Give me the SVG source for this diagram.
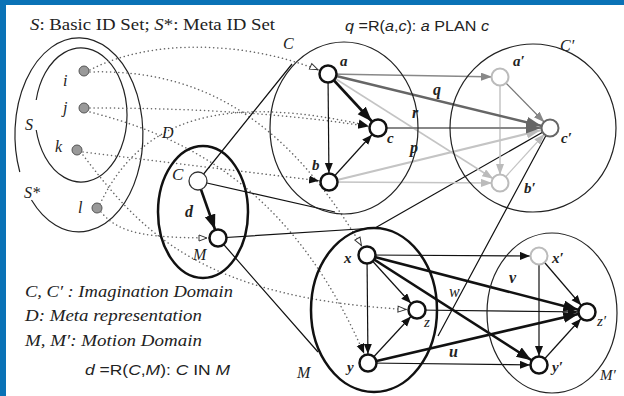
<svg xmlns="http://www.w3.org/2000/svg" width="624" height="396" viewBox="0 0 624 396">
<style>
.t{font-family:"Liberation Serif",serif;fill:#222}
.i{font-style:italic}
.b{font-weight:bold}
.sans{font-family:"Liberation Sans",Arial,sans-serif;fill:#222}
.dom{fill:none;stroke:#222;stroke-width:1.2}
.domb{fill:none;stroke:#111;stroke-width:2.5}
.dot{fill:none;stroke:#666;stroke-width:1.5;stroke-dasharray:0.1 4;stroke-linecap:round}
.n{fill:#fff;stroke:#111;stroke-width:2.5}
.ng{fill:#fff;stroke:#bbb;stroke-width:2}
.nd{fill:#fff;stroke:#666;stroke-width:2}
.ln{fill:none;stroke:#111;stroke-width:1.2}
.lb{fill:none;stroke:#111;stroke-width:2.6}
</style>
<defs>
<marker id="k" markerUnits="userSpaceOnUse" markerWidth="30" markerHeight="20" refX="19" refY="4" orient="auto"><path d="M0,0L10,4L0,8z" fill="#111"/></marker>
<marker id="K" markerUnits="userSpaceOnUse" markerWidth="40" markerHeight="20" refX="24" refY="5.5" orient="auto"><path d="M0,0L15,5.5L0,11z" fill="#111"/></marker>
<marker id="g" markerUnits="userSpaceOnUse" markerWidth="30" markerHeight="20" refX="19" refY="4" orient="auto"><path d="M0,0L11,4L0,8z" fill="#888"/></marker>
<marker id="G" markerUnits="userSpaceOnUse" markerWidth="40" markerHeight="20" refX="24" refY="5.5" orient="auto"><path d="M0,0L15,5.5L0,11z" fill="#666"/></marker>
<marker id="l" markerUnits="userSpaceOnUse" markerWidth="30" markerHeight="20" refX="19" refY="4" orient="auto"><path d="M0,0L11,4L0,8z" fill="#bbb"/></marker>
<marker id="L" markerUnits="userSpaceOnUse" markerWidth="40" markerHeight="20" refX="24" refY="5" orient="auto"><path d="M0,0L14,5L0,10z" fill="#bbb"/></marker>
<marker id="o" markerUnits="userSpaceOnUse" markerWidth="30" markerHeight="20" refX="20" refY="4" orient="auto"><path d="M1,1L9,4L1,7z" fill="#fff" stroke="#333" stroke-width="1"/></marker>
<marker id="f" markerUnits="userSpaceOnUse" markerWidth="30" markerHeight="20" refX="20" refY="4" orient="auto"><path d="M0,0L10,4L0,8z" fill="#111"/></marker>
</defs>
<rect x="0" y="0" width="624" height="396" fill="#fff"/>
<rect x="0" y="0" width="6" height="396" fill="#0a72b6"/>
<rect x="0" y="0" width="624" height="5" fill="#0a72b6"/>

<g id="texts">
<text class="t" x="30" y="30" font-size="17" textLength="245" lengthAdjust="spacingAndGlyphs"><tspan class="i">S</tspan>: Basic ID Set; <tspan class="i">S</tspan>*: Meta ID Set</text>
<text class="sans" x="345" y="31" font-size="14" textLength="144" lengthAdjust="spacingAndGlyphs"><tspan class="i">q</tspan> =R(<tspan class="i">a</tspan>,<tspan class="i">c</tspan>): <tspan class="i">a</tspan> PLAN <tspan class="i">c</tspan></text>
<text class="t i" x="25" y="297" font-size="16.5" textLength="208" lengthAdjust="spacingAndGlyphs">C, C′ : Imagination Domain</text>
<text class="t i" x="25" y="321" font-size="16.5" textLength="177" lengthAdjust="spacingAndGlyphs">D: Meta representation</text>
<text class="t i" x="25" y="346" font-size="16.5" textLength="177" lengthAdjust="spacingAndGlyphs">M, M′: Motion Domain</text>
<text class="sans" x="85" y="375" font-size="14" textLength="145" lengthAdjust="spacingAndGlyphs"><tspan class="i">d</tspan> =R(<tspan class="i">C</tspan>,<tspan class="i">M</tspan>): <tspan class="i">C</tspan> IN <tspan class="i">M</tspan></text>
</g>

<g id="S">
<path class="dom" d="M36.2,100 A46,67 0 1 1 36.2,130"/>
<path class="dom" d="M19.8,172 A64,97 0 1 1 31.5,200"/>
<text class="t i" x="25" y="130" font-size="16">S</text>
<text class="t i" x="24" y="198" font-size="16">S*</text>
</g>

<g id="connectors">
<!-- dotted ID mappings -->
<path class="dot" d="M90,70 C150,38 250,40 328,74" marker-end="url(#o)"/>
<path class="dot" d="M90,72 C220,68 300,140 367,255" marker-end="url(#o)"/>
<path class="dot" d="M90,108 C180,108 280,112 378,128" marker-end="url(#f)"/>
<path class="dot" d="M90,112 C200,140 300,200 368,363" marker-end="url(#f)"/>
<path class="dot" d="M83,152 L329,182" marker-end="url(#f)"/>
<path class="dot" d="M83,155 C140,230 200,300 417,310" marker-end="url(#o)"/>
<path class="dot" d="M100,204 C140,120 220,90 378,128" marker-end="url(#f)"/>
<path class="dot" d="M101,212 C120,235 150,238 218,238" marker-end="url(#o)"/>
<!-- cone lines -->
<path class="ln" d="M198,181 L292,64 M198,181 L335,212 M218,238 L375,228 M218,238 L318,352 M550,128 L375,228 M550,128 L438,336" stroke-width="1.1"/>
<!-- meta d -->
<path class="lb" d="M198,181 L218,238" marker-end="url(#K)"/>
<!-- within C -->
<path class="ln" d="M328,74 L329,182" marker-end="url(#k)"/>
<path class="lb" d="M328,74 L378,128" marker-end="url(#K)"/>
<path class="ln" d="M329,182 L378,128" marker-end="url(#k)"/>
<!-- C to C' -->
<path d="M328,74 L500,183" stroke="#c4c4c4" stroke-width="1.5" fill="none" marker-end="url(#l)"/>
<path d="M329,182 L550,128" stroke="#c4c4c4" stroke-width="2.2" fill="none" marker-end="url(#L)"/>
<path d="M329,182 L500,183" stroke="#c4c4c4" stroke-width="1.5" fill="none" marker-end="url(#l)"/>
<path d="M500,77 L500,183" stroke="#c4c4c4" stroke-width="1.5" fill="none" marker-end="url(#l)"/>
<path d="M500,183 L550,128" stroke="#c4c4c4" stroke-width="1.2" fill="none" marker-end="url(#l)"/>
<path d="M328,74 L500,77" stroke="#888" stroke-width="1.5" fill="none" marker-end="url(#g)"/>
<path d="M500,77 L550,128" stroke="#777" stroke-width="1.2" fill="none" marker-end="url(#g)"/>
<path d="M378,128 L550,128" stroke="#888" stroke-width="2" fill="none" marker-end="url(#G)"/>
<path d="M328,74 L550,128" stroke="#666" stroke-width="2.6" fill="none" marker-end="url(#G)"/>
<!-- within M -->
<path class="ln" d="M367,255 L368,363" marker-end="url(#k)"/>
<path class="ln" d="M367,255 L417,310" marker-end="url(#k)"/>
<path class="ln" d="M368,363 L417,310" marker-end="url(#k)"/>
<!-- M to M' -->
<path class="ln" d="M367,255 L539,256" stroke-width="2" marker-end="url(#k)"/>
<path class="ln" d="M417,310 L587,312" marker-end="url(#k)"/>
<path class="ln" d="M368,363 L539,365" stroke-width="2" marker-end="url(#k)"/>
<path class="lb" d="M367,255 L587,312" marker-end="url(#K)"/>
<path class="lb" d="M367,255 L539,365" marker-end="url(#K)"/>
<path class="lb" d="M368,363 L587,312" marker-end="url(#K)"/>
<path class="ln" d="M539,256 L539,365" marker-end="url(#k)"/>
<path class="ln" d="M539,256 L587,312" marker-end="url(#k)"/>
<path class="ln" d="M539,365 L587,312" marker-end="url(#k)"/>
</g>

<g id="D">
<ellipse class="domb" cx="203" cy="212" rx="45" ry="66"/>
<text class="t i" x="162" y="138" font-size="16">D</text>
</g>
<g id="Cdom">
<ellipse class="dom" cx="344" cy="128" rx="74" ry="86"/>
<text class="t i" x="283" y="49" font-size="16">C</text>
</g>
<g id="Cpdom">
<ellipse class="dom" cx="533" cy="128" rx="83" ry="84" stroke="#444"/>
<text class="t i" x="560" y="51" font-size="16">C′</text>
</g>
<g id="Mdom">
<ellipse class="domb" cx="374" cy="310" rx="63" ry="82"/>
<text class="t i" x="297" y="378" font-size="16">M</text>
</g>
<g id="Mpdom">
<ellipse class="dom" cx="552" cy="313" rx="65" ry="80"/>
<text class="t i" x="600" y="380" font-size="15">M′</text>
</g>

<g id="node-i"><circle cx="84" cy="71" r="5" fill="#999" stroke="#555" stroke-width="1"/><text class="t i" x="63" y="86" font-size="16">i</text></g>
<g id="node-j"><circle cx="84" cy="108" r="5" fill="#999" stroke="#555" stroke-width="1"/><text class="t i" x="63" y="113" font-size="16">j</text></g>
<g id="node-k"><circle cx="77" cy="150" r="5" fill="#999" stroke="#555" stroke-width="1"/><text class="t i" x="55" y="152" font-size="16">k</text></g>
<g id="node-l"><circle cx="97" cy="208" r="5" fill="#999" stroke="#555" stroke-width="1"/><text class="t i" x="78" y="213" font-size="16">l</text></g>

<g id="node-C"><circle cx="198" cy="181" r="9" fill="#fff" stroke="#333" stroke-width="1.3"/><text class="t i" x="172" y="180" font-size="17">C</text></g>
<g id="node-M"><circle class="n" cx="218" cy="238" r="8.5"/><text class="t i" x="193" y="260" font-size="16">M</text></g>
<text class="t i b" x="185" y="217" font-size="16">d</text>

<g id="node-a"><circle class="n" cx="328" cy="74" r="8.5"/><text class="t i b" x="340" y="66" font-size="15">a</text></g>
<g id="node-b"><circle class="n" cx="329" cy="182" r="8.5"/><text class="t i b" x="312" y="170" font-size="15">b</text></g>
<g id="node-c"><circle class="n" cx="378" cy="128" r="8.5"/><text class="t i b" x="387" y="143" font-size="15">c</text></g>
<g id="node-ap"><circle class="ng" cx="500" cy="77" r="8.5"/><text class="t i b" x="513" y="66" font-size="15">a′</text></g>
<g id="node-bp"><circle class="ng" cx="500" cy="183" r="8.5"/><text class="t i b" x="524" y="193" font-size="15">b′</text></g>
<g id="node-cp"><circle class="nd" cx="550" cy="128" r="8.5"/><text class="t i b" x="561" y="143" font-size="15">c′</text></g>

<text class="t i b" x="433" y="95" font-size="16">q</text>
<text class="t i b" x="412" y="118" font-size="16">r</text>
<text class="t i b" x="410" y="153" font-size="16">p</text>

<g id="node-x"><circle class="n" cx="367" cy="255" r="8.5"/><text class="t i b" x="344" y="263" font-size="15">x</text></g>
<g id="node-y"><circle class="n" cx="368" cy="363" r="8.5"/><text class="t i b" x="347" y="372" font-size="15">y</text></g>
<g id="node-z"><circle class="n" cx="417" cy="310" r="8.5"/><text class="t i" x="424" y="327" font-size="15">z</text></g>
<g id="node-xp"><circle class="ng" cx="539" cy="256" r="8.5"/><text class="t i b" x="552" y="263" font-size="15">x′</text></g>
<g id="node-yp"><circle class="n" cx="539" cy="365" r="8.5"/><text class="t i b" x="552" y="372" font-size="15">y′</text></g>
<g id="node-zp"><circle class="n" cx="587" cy="312" r="8.5"/><text class="t i" x="597" y="326" font-size="15">z′</text></g>

<text class="t i b" x="449" y="357" font-size="16">u</text>
<text class="t i b" x="509" y="283" font-size="16">v</text>
<text class="t i" x="449" y="297" font-size="16">w</text>
</svg>
